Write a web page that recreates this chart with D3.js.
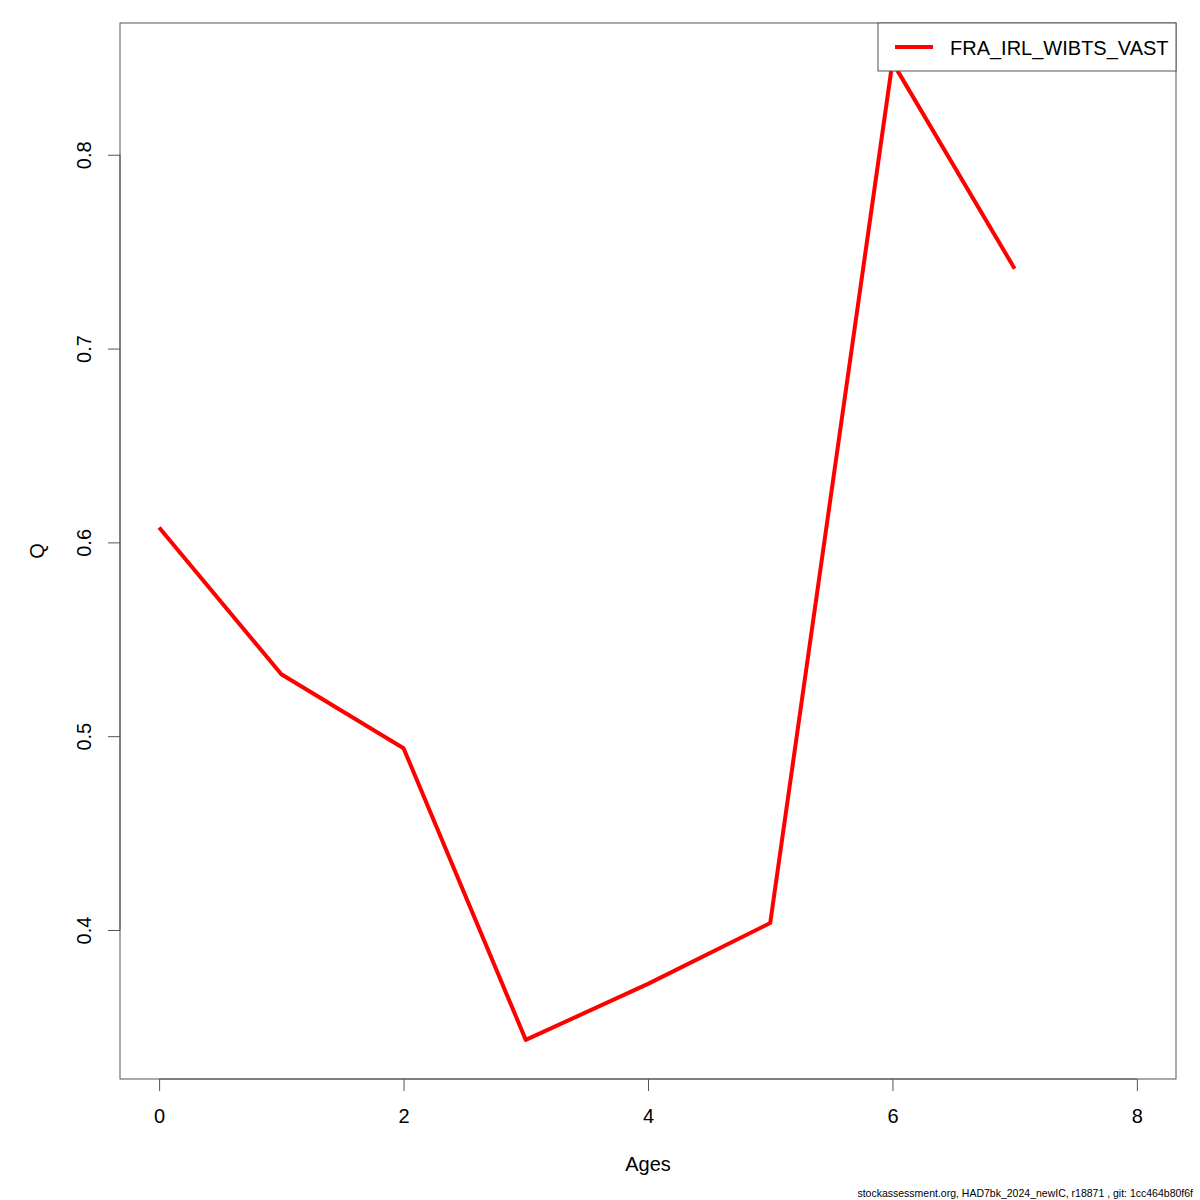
<!DOCTYPE html>
<html><head><meta charset="utf-8">
<script src="https://cdn.jsdelivr.net/npm/d3@7"></script>
<style>body{margin:0;background:#fff}svg{display:block;font-family:"Liberation Sans",Arial,sans-serif}</style>
</head><body>
<svg id="c" width="1200" height="1200"></svg>
<script>
const ages = [0, 1, 2, 3, 4, 5, 6, 7];
const qValues = [0.6077, 0.5320, 0.4938, 0.3433, 0.3722, 0.4036, 0.8478, 0.7412];
const seriesName = "FRA_IRL_WIBTS_VAST";
const xTicks = [0, 2, 4, 6, 8];
const yTicks = [0.4, 0.5, 0.6, 0.7, 0.8];
const footer = "stockassessment.org, HAD7bk_2024_newIC, r18871 , git: 1cc464b80f6f";

const svg = d3.select("#c");
const L = 120, R = 1176, T = 23, B = 1079;
const xPad = 0.04 * 8;
const x = d3.scaleLinear().domain([0 - xPad, 8 + xPad]).range([L, R]);
const yMin = d3.min(qValues), yMax = d3.max(qValues), yp = 0.04 * (yMax - yMin);
const y = d3.scaleLinear().domain([yMin - yp, yMax + yp]).range([B, T]);

svg.append("rect").attr("x", L).attr("y", T).attr("width", R - L).attr("height", B - T)
  .attr("fill", "none").attr("stroke", "#555").attr("stroke-width", 1);

const xa = svg.append("g").attr("transform", `translate(0,${B})`)
  .call(d3.axisBottom(x).tickValues(xTicks).tickSize(12).tickPadding(18).tickFormat(d3.format("d")));
xa.select(".domain").attr("d", `M${x(0)},0H${x(8)}`).attr("stroke", "#555");
xa.selectAll("line").attr("stroke", "#555");
xa.selectAll("text").attr("font-size", 20).attr("fill", "#000").attr("font-family", "Liberation Sans, Arial, sans-serif");

const ya = svg.append("g").attr("transform", `translate(${L},0)`)
  .call(d3.axisLeft(y).tickValues(yTicks).tickSize(12).tickFormat(d3.format(".1f")));
ya.select(".domain").attr("d", `M0,${y(0.4)}V${y(0.8)}`).attr("stroke", "#555");
ya.selectAll("line").attr("stroke", "#555");
ya.selectAll("text").attr("font-size", 20).attr("fill", "#000").attr("font-family", "Liberation Sans, Arial, sans-serif")
  .attr("text-anchor", "middle").attr("dy", null).attr("x", null)
  .attr("transform", "translate(-35,0) rotate(-90)").attr("dominant-baseline", "auto").attr("y", 6);

svg.append("path").datum(ages.map((a, i) => [a, qValues[i]]))
  .attr("d", d3.line().x(d => x(d[0])).y(d => y(d[1])))
  .attr("fill", "none").attr("stroke", "#ff0000").attr("stroke-width", 4).attr("stroke-linejoin", "round");

svg.append("text").attr("x", (L + R) / 2).attr("y", 1171).attr("text-anchor", "middle")
  .attr("font-size", 20).text("Ages");
svg.append("text").attr("transform", `translate(44,${(T + B) / 2}) rotate(-90)`).attr("text-anchor", "middle")
  .attr("font-size", 20).text("Q");

const lg = svg.append("g");
lg.append("rect").attr("x", 878).attr("y", T).attr("width", R - 878).attr("height", 48)
  .attr("fill", "#fff").attr("stroke", "#555");
lg.append("line").attr("x1", 895).attr("x2", 933).attr("y1", 47).attr("y2", 47)
  .attr("stroke", "#ff0000").attr("stroke-width", 4);
lg.append("text").attr("x", 950).attr("y", 55).attr("font-size", 20).text(seriesName);

svg.append("text").attr("x", 1193).attr("y", 1197).attr("text-anchor", "end").attr("font-size", 10.5).text(footer);
</script>
</body></html>
